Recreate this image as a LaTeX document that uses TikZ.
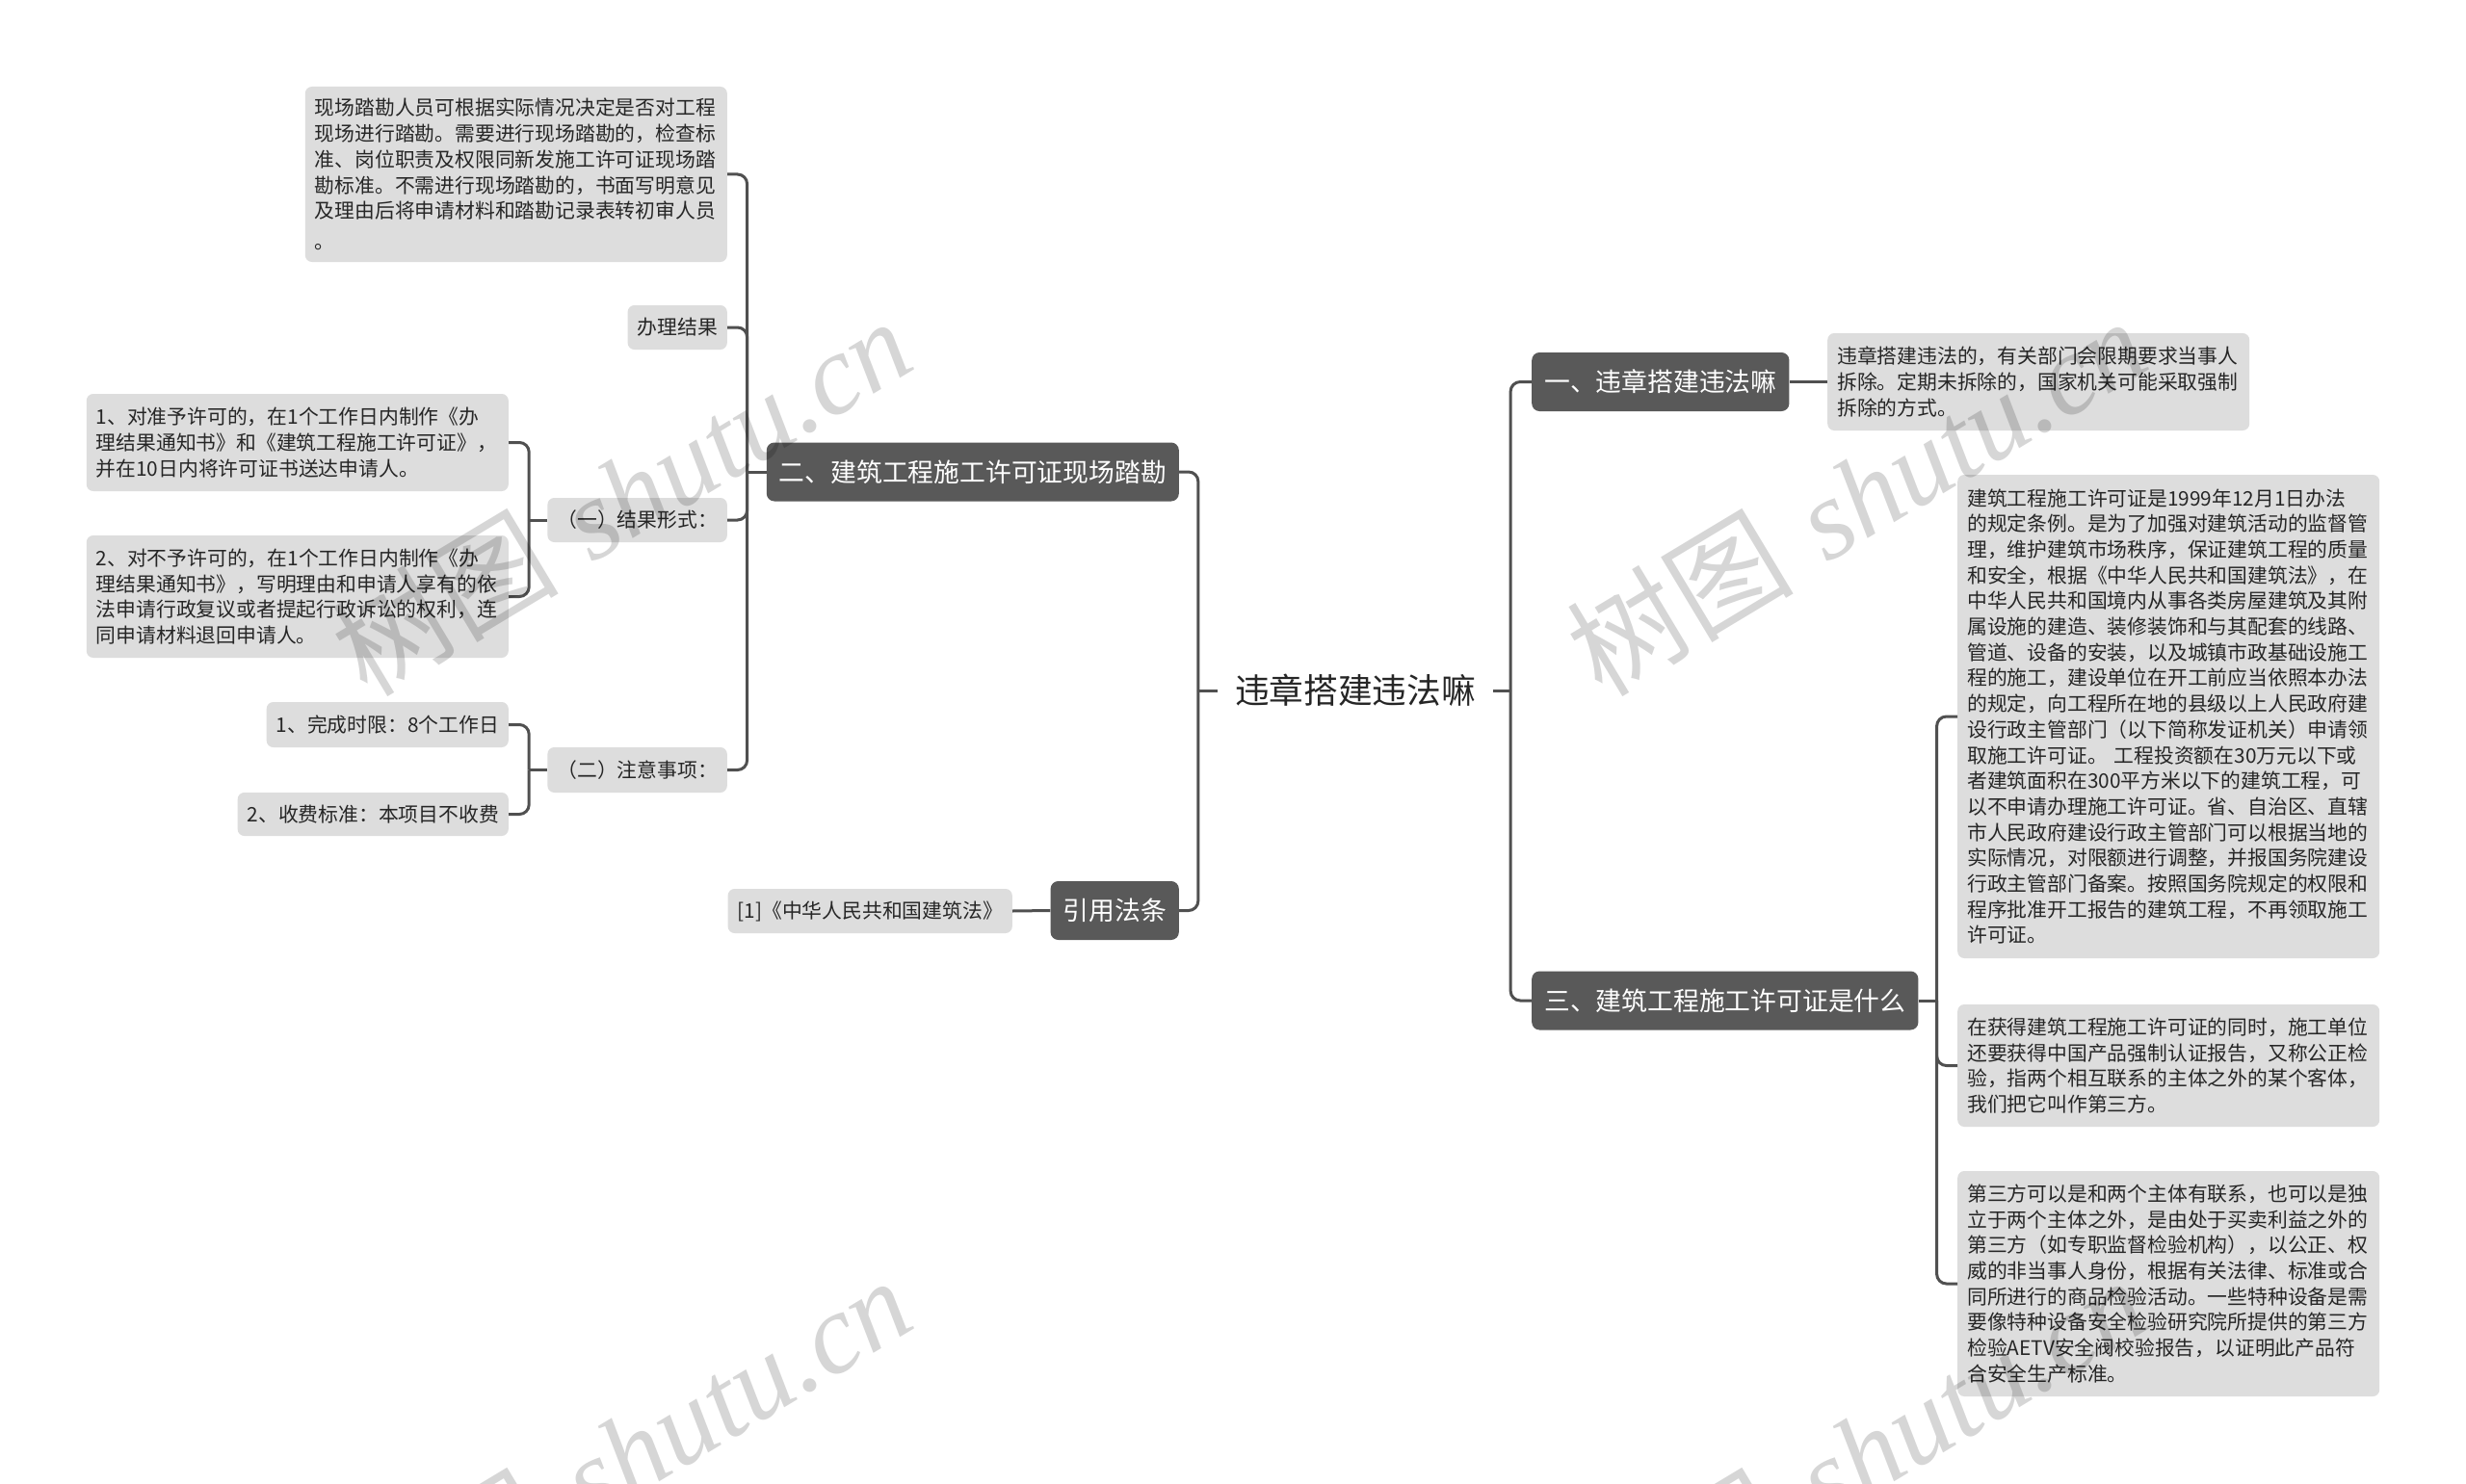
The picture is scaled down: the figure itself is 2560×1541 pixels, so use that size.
\documentclass[tikz,border=0pt]{standalone}
\usepackage{fontspec}
\newfontfamily\cjk{Noto Sans CJK SC}
\newfontfamily\wmserif{Liberation Serif}
\definecolor{boxfill}{HTML}{DDDDDD}
\definecolor{darkfill}{HTML}{595959}
\definecolor{linec}{HTML}{505050}
\definecolor{txt}{HTML}{262626}
\tikzset{
  lbox/.style={fill=boxfill, rounded corners=7pt, inner xsep=10pt, inner ysep=0pt,
    font=\cjk\fontsize{20.8}{26.7}\selectfont, text=txt, align=left},
  sbox/.style={fill=boxfill, rounded corners=7pt, inner xsep=10pt, inner ysep=0pt,
    font=\cjk\fontsize{20.8}{26.7}\selectfont, text=txt, align=center},
  dbox/.style={fill=darkfill, rounded corners=8pt, inner xsep=13pt, inner ysep=0pt,
    minimum height=61pt, text=white, font=\cjk\fontsize{26.8}{32}\selectfont, align=center},
  rootbox/.style={inner xsep=18pt, inner ysep=0pt, minimum height=60pt, text=txt,
    font=\cjk\fontsize{35.7}{42}\selectfont},
  link/.style={draw=linec, line width=3pt, rounded corners=10pt},
  wm/.style={text=black, text opacity=0.16, rotate=31, inner sep=0pt}
}
\begin{document}
\begin{tikzpicture}[x=1pt, y=-1pt]
\useasboundingbox (0,0) rectangle (2560,1541);
\fill[white] (0,0) rectangle (2560,1541);

% root
\node[rootbox] (root) at (1407,717) {违章搭建违法嘛};

% first level
\node[dbox, anchor=west] (n1) at (1590,396.5) {一、违章搭建违法嘛};
\node[dbox, anchor=west] (n3) at (1590,1039) {三、建筑工程施工许可证是什么};
\node[dbox, anchor=east] (n2) at (1224,490) {二、建筑工程施工许可证现场踏勘};
\node[dbox, anchor=east] (n4) at (1224,945.5) {引用法条};

% right children
\node[lbox, anchor=west, text width=418pt, minimum height=101pt] (n1c) at (1897,396.5)
{违章搭建违法的，有关部门会限期要求当事人\\拆除。定期未拆除的，国家机关可能采取强制\\拆除的方式。};

\node[lbox, anchor=west, text width=418pt, minimum height=502pt] (n3c1) at (2032,744)
{建筑工程施工许可证是1999年12月1日办法\\的规定条例。是为了加强对建筑活动的监督管\\理，维护建筑市场秩序，保证建筑工程的质量\\和安全，根据《中华人民共和国建筑法》，在\\中华人民共和国境内从事各类房屋建筑及其附\\属设施的建造、装修装饰和与其配套的线路、\\管道、设备的安装，以及城镇市政基础设施工\\程的施工，建设单位在开工前应当依照本办法\\的规定，向工程所在地的县级以上人民政府建\\设行政主管部门（以下简称发证机关）申请领\\取施工许可证。 工程投资额在30万元以下或\\者建筑面积在300平方米以下的建筑工程，可\\以不申请办理施工许可证。省、自治区、直辖\\市人民政府建设行政主管部门可以根据当地的\\实际情况，对限额进行调整，并报国务院建设\\行政主管部门备案。按照国务院规定的权限和\\程序批准开工报告的建筑工程，不再领取施工\\许可证。};

\node[lbox, anchor=west, text width=418pt, minimum height=127pt] (n3c2) at (2032,1106.5)
{在获得建筑工程施工许可证的同时，施工单位\\还要获得中国产品强制认证报告，又称公正检\\验，指两个相互联系的主体之外的某个客体，\\我们把它叫作第三方。};

\node[lbox, anchor=west, text width=418pt, minimum height=234pt] (n3c3) at (2032,1333)
{第三方可以是和两个主体有联系，也可以是独\\立于两个主体之外，是由处于买卖利益之外的\\第三方（如专职监督检验机构），以公正、权\\威的非当事人身份，根据有关法律、标准或合\\同所进行的商品检验活动。一些特种设备是需\\要像特种设备安全检验研究院所提供的第三方\\检验AETV安全阀校验报告，以证明此产品符\\合安全生产标准。};

% left children
\node[lbox, anchor=east, text width=418pt, minimum height=182pt] (n2c1) at (755,181)
{现场踏勘人员可根据实际情况决定是否对工程\\现场进行踏勘。需要进行现场踏勘的，检查标\\准、岗位职责及权限同新发施工许可证现场踏\\勘标准。不需进行现场踏勘的，书面写明意见\\及理由后将申请材料和踏勘记录表转初审人员\\[5pt]。};

\node[sbox, anchor=east, minimum height=46pt] (n2c2) at (755,340) {办理结果};
\node[sbox, anchor=east, minimum height=46pt] (n2c3) at (755,540) {（一）结果形式：};
\node[sbox, anchor=east, minimum height=47pt] (n2c4) at (755,799.5) {（二）注意事项：};

\node[lbox, anchor=east, text width=418pt, minimum height=101pt] (a1) at (528,459.5)
{1、对准予许可的，在1个工作日内制作《办\\理结果通知书》和《建筑工程施工许可证》，\\并在10日内将许可证书送达申请人。};
\node[lbox, anchor=east, text width=418pt, minimum height=127pt] (a2) at (528,619.5)
{2、对不予许可的，在1个工作日内制作《办\\理结果通知书》，写明理由和申请人享有的依\\法申请行政复议或者提起行政诉讼的权利，连\\同申请材料退回申请人。};

\node[sbox, anchor=east, minimum height=47pt] (b1) at (528,752.5) {1、完成时限：8个工作日};
\node[sbox, anchor=east, minimum height=45pt] (b2) at (528,845.5) {2、收费标准：本项目不收费};

\node[sbox, anchor=east, minimum height=46pt] (n4c) at (1051,946) {[1]《中华人民共和国建筑法》};

% junctions
\coordinate (rR) at ([xshift=18pt]root.east);
\coordinate (rL) at ([xshift=-20pt]root.west);
\coordinate (j3) at ([xshift=19pt]n3.east);
\coordinate (j2) at ([xshift=-20pt]n2.west);
\coordinate (j23) at ([xshift=-19pt]n2c3.west);
\coordinate (j24) at ([xshift=-19pt]n2c4.west);

% connectors
\draw[link] (root.east) -- (rR);
\draw[link] (rR) |- (n1.west);
\draw[link] (rR) |- (n3.west);
\draw[link] (root.west) -- (rL);
\draw[link] (rL) |- (n2.east);
\draw[link] (rL) |- (n4.east);
\draw[link] (n1.east) -- (n1c.west);
\draw[link] (n3.east) -- (j3);
\draw[link] (j3) |- (n3c1.west);
\draw[link] (j3) |- (n3c2.west);
\draw[link] (j3) |- (n3c3.west);
\draw[link] (n2.west) -- (j2);
\draw[link] (j2) |- (n2c1.east);
\draw[link] (j2) |- (n2c2.east);
\draw[link] (j2) |- (n2c3.east);
\draw[link] (j2) |- (n2c4.east);
\draw[link] (n4.west) -- (n4c.east);
\draw[link] (n2c3.west) -- (j23);
\draw[link] (j23) |- (a1.east);
\draw[link] (j23) |- (a2.east);
\draw[link] (n2c4.west) -- (j24);
\draw[link] (j24) |- (b1.east);
\draw[link] (j24) |- (b2.east);

% watermarks
\begin{scope}
\clip (0,0) rectangle (2560,1541);
\foreach \wx/\wy [count=\i] in {645/515, 1927/515, 645/1511, 1927/1511}{
  \node[wm] (wm\i) at (\wx,\wy) {\fontsize{118}{120}\selectfont{\cjk 树图} {\wmserif\itshape shutu.cn}};
}
\end{scope}
\end{tikzpicture}
\end{document}
